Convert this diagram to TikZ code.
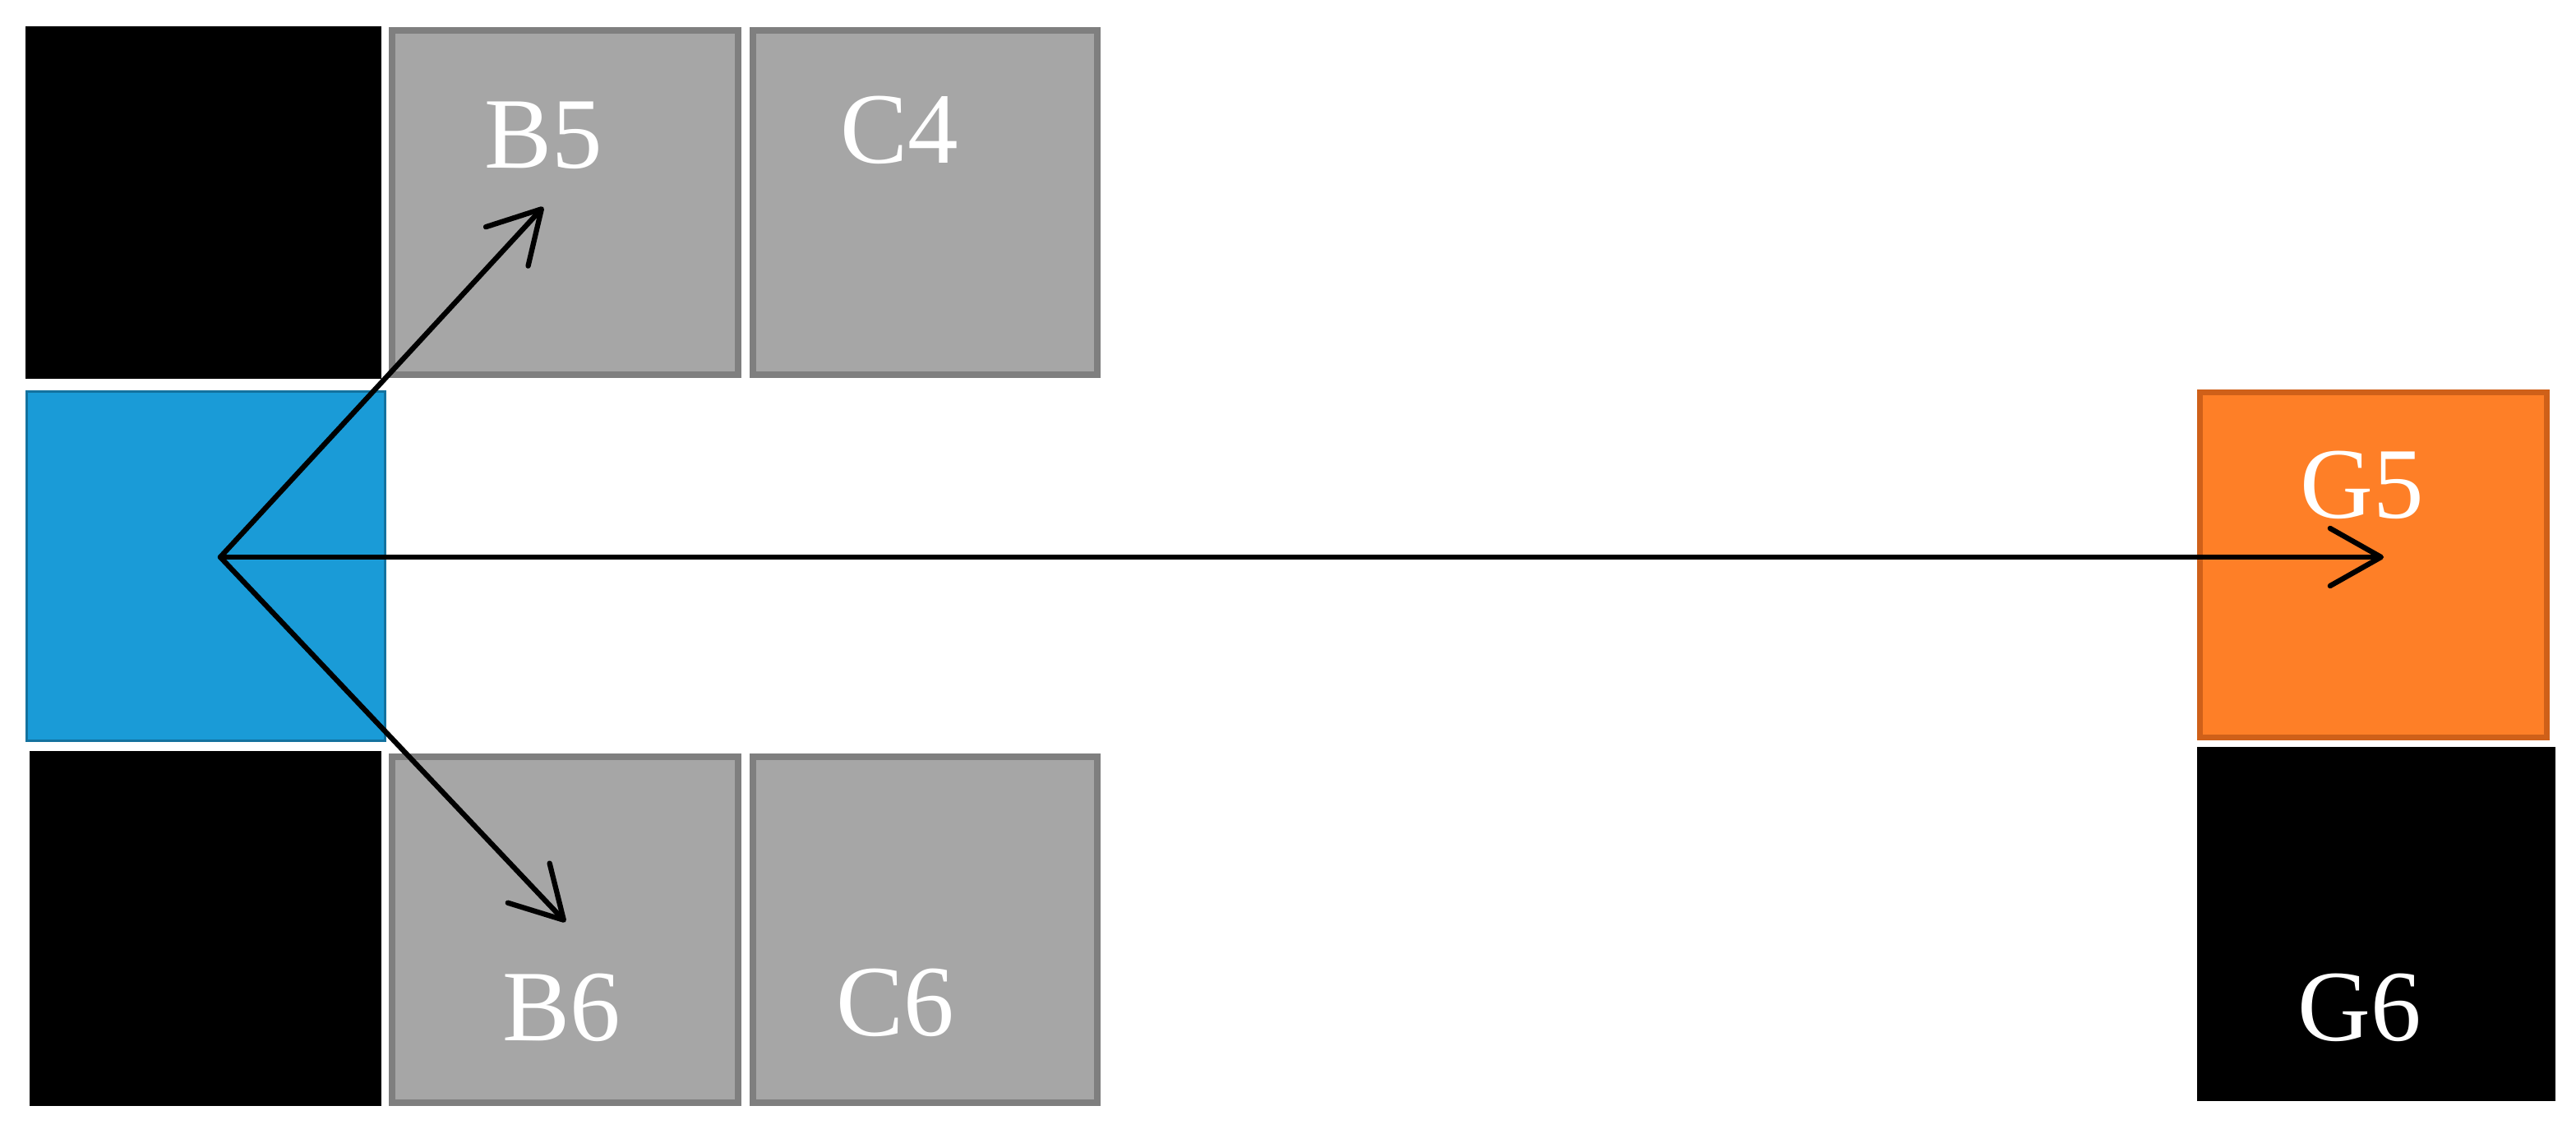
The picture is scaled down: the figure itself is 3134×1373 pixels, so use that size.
\documentclass[tikz,border=0pt]{standalone}
\usepackage{fontspec}
\setmainfont{Liberation Serif}
\usetikzlibrary{arrows.meta}
\definecolor{boxgray}{HTML}{A6A6A6}
\definecolor{boxgrayline}{HTML}{7F7F7F}
\definecolor{cellblue}{HTML}{1A9BD7}
\definecolor{cellblueline}{HTML}{13729F}
\definecolor{cellorange}{HTML}{FE7F27}
\definecolor{cellorangeline}{HTML}{CF6019}
\tikzset{
  cell/.style={rectangle, inner sep=0pt, outer sep=0pt},
  blackcell/.style={cell, fill=black},
  graycell/.style={cell, fill=boxgray, draw=boxgrayline, line width=2.2pt},
  bluecell/.style={cell, fill=cellblue, draw=cellblueline, line width=0.85pt},
  orangecell/.style={cell, fill=cellorange, draw=cellorangeline, line width=2pt},
  celltext/.style={inner sep=0pt, text=white, font=\fontsize{35}{42}\selectfont},
  move/.style={line width=1.8pt, line cap=round, line join=round,
    -{Straight Barb[length=0.62cm, width=0.7cm, line width=1.8pt, round]}}
}
\begin{document}
\begin{tikzpicture}[x=0.01cm, y=-0.01cm]
\useasboundingbox (0,0) rectangle (3134,1373);
% cells
\node[blackcell, minimum width=4.33cm, minimum height=4.29cm] (k1) at (247.5,246.5) {};
\node[graycell, minimum width=4.21cm, minimum height=4.19cm] (b5) at (687.5,246.5) {};
\node[graycell, minimum width=4.19cm, minimum height=4.19cm] (c4) at (1125.5,246.5) {};
\node[bluecell, minimum width=4.36cm, minimum height=4.25cm] (a5) at (250.5,689) {};
\node[blackcell, minimum width=4.28cm, minimum height=4.32cm] (k2) at (250,1130) {};
\node[graycell, minimum width=4.21cm, minimum height=4.21cm] (b6) at (687.5,1131.5) {};
\node[graycell, minimum width=4.19cm, minimum height=4.21cm] (c6) at (1125.5,1131.5) {};
\node[orangecell, minimum width=4.22cm, minimum height=4.20cm] (g5) at (2887.5,687.5) {};
\node[blackcell, minimum width=4.36cm, minimum height=4.31cm] (g6) at (2891,1124.5) {};
% arrow endpoints
\coordinate (o) at (268,678);
\coordinate (tb5) at (661,252);
\coordinate (tb6) at (688,1122);
\coordinate (tg5) at (2900,678);
\draw[move] (o) -- (tb5);
\draw[move] (o) -- (tb6);
\draw[move] (o) -- (tg5);
% labels
\node[celltext] (lb5) at (661,165) {B5};
\node[celltext] (lc4) at (1094,158) {C4};
\node[celltext] (lb6) at (683,1226) {B6};
\node[celltext] (lc6) at (1089,1220) {C6};
\node[celltext] (lg5) at (2874,590) {G5};
\node[celltext] (lg6) at (2871,1226) {G6};
\end{tikzpicture}
\end{document}
